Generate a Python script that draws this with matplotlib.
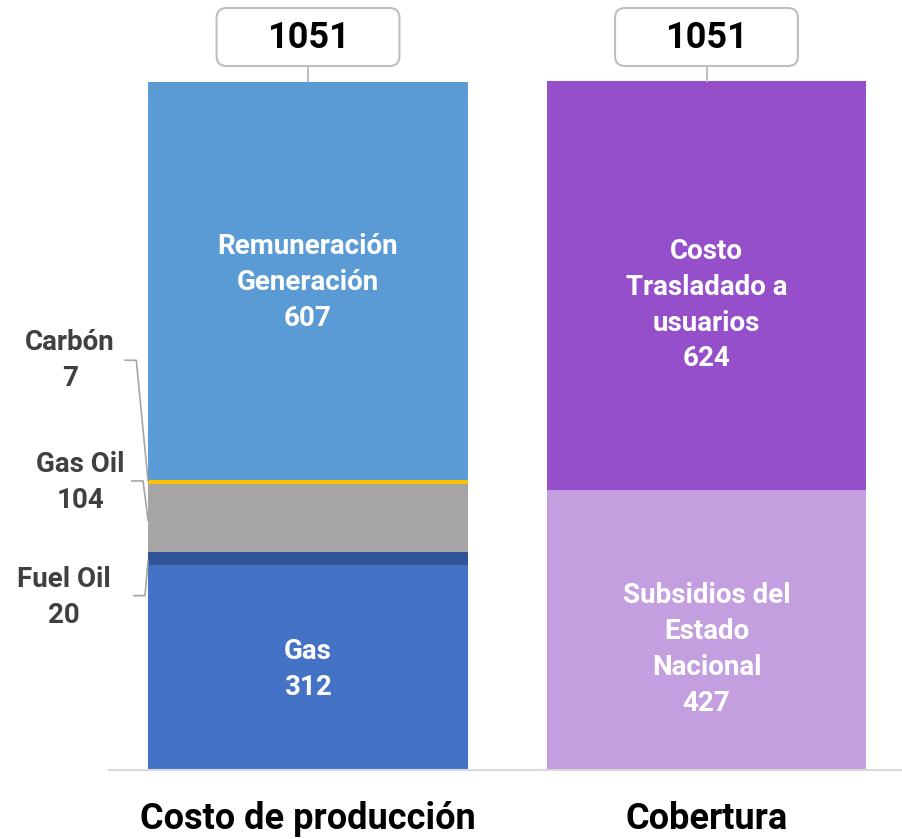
import matplotlib.pyplot as plt
from matplotlib.patches import FancyBboxPatch

plt.rcParams['font.family'] = ['Roboto', 'DejaVu Sans']

# datos
categorias = ["Costo de producción", "Cobertura"]
prod_nombres = ["Gas", "Fuel Oil", "Gas Oil", "Carbón", "Remuneración\nGeneración"]
prod_valores = [312, 20, 104, 7, 607]
prod_colores = ["#4472C4", "#2F5597", "#A5A5A5", "#FFC000", "#5B9BD5"]
cob_nombres = ["Subsidios del\nEstado\nNacional", "Costo\nTrasladado a\nusuarios"]
cob_valores = [427, 624]
cob_colores = ["#C49FE0", "#954FCA"]
totales = [1051, 1051]

fig = plt.figure(figsize=(9.02, 8.39), dpi=100)
ax = fig.add_axes([0, 0, 1, 1])
ax.set_xlim(-0.773, 1.4906)
ax.set_ylim(-105.2, 1174.5)
ax.axis('off')

ancho = 0.803
fs = 20
ls = 1.42

# barra izquierda
base = 0
for nombre, v, c in zip(prod_nombres, prod_valores, prod_colores):
    ax.bar(0, v, bottom=base, width=ancho, color=c, edgecolor='none')
    base += v

# barra derecha
base = 0
for nombre, v, c in zip(cob_nombres, cob_valores, cob_colores):
    ax.bar(1, v, bottom=base, width=ancho, color=c, edgecolor='none')
    ax.text(1, base + v / 2 - 30, f"{nombre}\n{v}", ha='center', va='center',
            color='white', fontsize=fs, fontweight='bold', linespacing=ls)
    base += v

# etiquetas dentro de la barra izquierda
ax.text(0, prod_valores[0] / 2 - 3, f"Gas\n{prod_valores[0]}", ha='center', va='center',
        color='white', fontsize=fs, fontweight='bold', linespacing=ls)
b_rem = sum(prod_valores[:4])
ax.text(0, b_rem + prod_valores[4] / 2 - 3, f"{prod_nombres[4]}\n{prod_valores[4]}",
        ha='center', va='center', color='white', fontsize=fs, fontweight='bold',
        linespacing=ls)

# etiquetas externas con líneas guía
gris = '#404040'
guia = '#A6A6A6'
izq = -ancho / 2
ax.text(-0.597, 625, f"Carbón\n{prod_valores[3]}", ha='center', va='center',
        color=gris, fontsize=fs, fontweight='bold', linespacing=ls)
ax.plot([-0.459, -0.431, izq], [625, 625, 441], color=guia, lw=1.2)
ax.text(-0.572, 439, f"Gas Oil\n{prod_valores[2]}", ha='center', va='center',
        color=gris, fontsize=fs, fontweight='bold', linespacing=ls)
ax.plot([-0.442, -0.414, izq], [441, 441, 381], color=guia, lw=1.2)
ax.text(-0.612, 263, f"Fuel Oil\n{prod_valores[1]}", ha='center', va='center',
        color=gris, fontsize=fs, fontweight='bold', linespacing=ls)
ax.plot([-0.437, -0.409, izq], [266, 266, 320], color=guia, lw=1.2)

# cajas de totales
for i, t in enumerate(totales):
    ax.plot([i, i], [t, 1073.8], color='#BFBFBF', lw=1.5)
    caja = FancyBboxPatch((i - 0.2295, 1073.8), 0.459, 88.5,
                          boxstyle="round,pad=0,rounding_size=0.025",
                          mutation_aspect=607, facecolor='white',
                          edgecolor='#BFBFBF', lw=1.5)
    ax.add_patch(caja)
    ax.text(i, 1117, str(t), ha='center', va='center', color='black',
            fontsize=26, fontweight='bold')

# línea base
ax.plot([-0.5, 1.4906], [0, 0], color='#D9D9D9', lw=1.5)

# categorías
for i, c in enumerate(categorias):
    ax.text(i, -74, c, ha='center', va='center', color='black',
            fontsize=26, fontweight='bold')

fig.savefig('out.png', dpi=100)
